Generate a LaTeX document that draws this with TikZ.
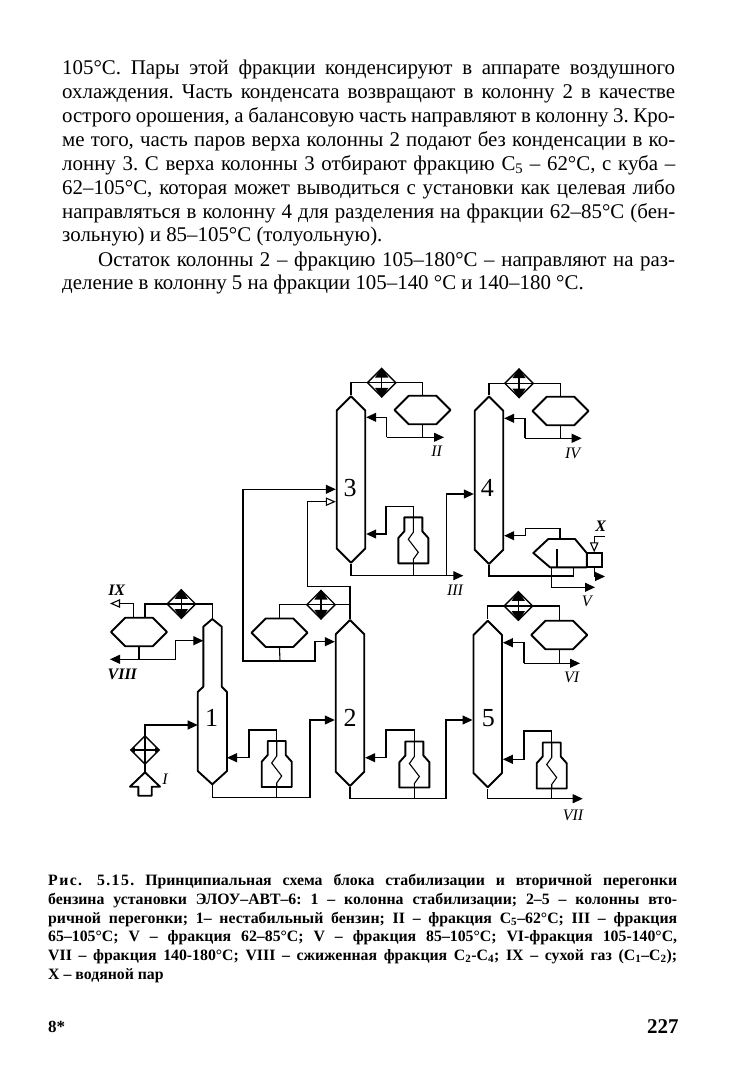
\documentclass[tikz,border=0pt]{standalone}
\usepackage{fontspec}
\setmainfont{Liberation Serif}
\usepackage{tikz}
\usetikzlibrary{positioning}
\usetikzlibrary{calc}
\usetikzlibrary{arrows.meta}
\usetikzlibrary{shapes.geometric,shapes.symbols}
\newcommand{\fitline}[2]{\makebox[#1pt][s]{#2}}
\newcommand{\subn}[1]{\textsubscript{#1}}

\tikzset{
  vessel/.style={draw, line width=1.9pt, line join=round},
  flow/.style={line width=1.1pt},
  feedin/.style={flow, -{Triangle[length=10pt,width=9pt]}},
  ventout/.style={flow, -{Triangle[open,length=10pt,width=8.5pt]}},
  reboil/.pic={
    \draw[vessel] (-9,0) -- (9,0) -- (9,14) -- (15,20.7) -- (15,46) -- (-15,46) -- (-15,20.7) -- (-9,14) -- cycle;
    \draw[flow] (0,0) -- (0,15) -- (-5,22) -- (5,35) -- (0,42) -- (0,46);
    \coordinate (-top) at (0,0);
    \coordinate (-bot) at (0,46);
  }
}

\begin{document}
\begin{tikzpicture}[
  x=1pt, y=-1pt,
  column/.style={signal, signal to=north and south, signal pointer angle=90, vessel, inner sep=0pt, minimum width=28.5pt},
  drum/.style={signal, signal to=west and east, signal pointer angle=90, vessel, inner sep=0pt, minimum width=56pt, minimum height=28.5pt},
  cond/.style={diamond, draw, line width=1.4pt, inner sep=0pt, minimum size=29pt},
  condtip/.style={flow, {Triangle[length=10pt,width=13pt]}-{Triangle[length=10pt,width=13pt]}},
  numtag/.style={font=\fontsize{26}{26}\selectfont, inner sep=0pt},
  streamtag/.style={font=\fontsize{16}{16}\selectfont\itshape, inner sep=0pt},
  boldtag/.style={font=\fontsize{16}{16}\selectfont\itshape\bfseries, inner sep=0pt},
  bodytext/.style={anchor=base west, inner sep=0pt, font=\fontsize{20.9}{23}\selectfont\frenchspacing},
  captext/.style={anchor=base west, inner sep=0pt, font=\fontsize{15.8}{18}\selectfont\bfseries\frenchspacing}
]
\useasboundingbox (0,0) rectangle (736,1089);

% ---------- Text above the scheme ----------
\node[bodytext] (t1) at (62,75) {\fitline{613}{105°С. Пары этой фракции конденсируют в аппарате воздушного}};
\node[bodytext] (t2) at (62,99) {\fitline{613}{охлаждения. Часть конденсата возвращают в колонну 2 в качестве}};
\node[bodytext] (t3) at (62,123) {\fitline{613}{острого орошения, а балансовую часть направляют в колонну 3. Кро-}};
\node[bodytext] (t4) at (62,146.5) {\fitline{613}{ме того, часть паров верха колонны 2 подают без конденсации в ко-}};
\node[bodytext] (t5) at (62,170.5) {\fitline{613}{лонну 3. С верха колонны 3 отбирают фракцию С\subn{5}~– 62°С, с куба –}};
\node[bodytext] (t6) at (62,194) {\fitline{613}{62–105°С, которая может выводиться с установки как целевая либо}};
\node[bodytext] (t7) at (62,218) {\fitline{613}{направляться в колонну 4 для разделения на фракции 62–85°С (бен-}};
\node[bodytext] (t8) at (62,241.5) {зольную) и 85–105°С (толуольную).};
\node[bodytext] (t9) at (98,266) {\fitline{577}{Остаток колонны 2 – фракцию 105–180°С – направляют на раз-}};
\node[bodytext] (t10) at (62,289.5) {деление в колонну 5 на фракции 105–140 °С и 140–180 °С.};

% ---------- Column 3 ----------
\node[column, minimum height=138pt] (col3) at (351,479.5) {};
\node[numtag] (n3) at (350,488) {3};
\node[cond] (cd3) at (381.7,382.7) {};
\node[drum] (hx3) at (422.5,410) {};
\draw[condtip] (cd3.north) -- (cd3.south);
\draw[flow] (cd3.west) -- (cd3.east);
\draw[flow] (col3.north) |- (cd3.west);
\draw[flow] (cd3.east) -| (hx3.north);
\coordinate (r3) at (386.7,437.3);
\node[streamtag] (s2) at (436.7,451.7) {II};
\draw[feedin] (r3) -- (444,437.3) coordinate (o2);
\draw[flow] (hx3.south) -- (hx3.south |- r3);
\draw[feedin] (r3) |- (col3.east |- 0,417.3);
\pic (rb3) at (413.3,517.3) {reboil};
\coordinate (b3) at (386,534);
\draw[feedin] (rb3-top) -- ++(0,-10.6) -| (b3) -- (col3.east |- b3);
\coordinate (j3) at (446.7,575.7);
\draw[feedin] (col3.south) |- (463.3,575.7) coordinate (o3);
\draw[flow] (rb3-bot) -- (rb3-bot |- j3);
\node[streamtag] (s3) at (455,590) {III};

% ---------- Column 4 ----------
\node[column, minimum height=139pt] (col4) at (489,480.3) {};
\node[numtag] (n4) at (487.3,488.3) {4};
\draw[feedin] (j3) |- (col4.west |- 0,494);
\node[cond] (cd4) at (519,383.3) {};
\node[drum] (hx4) at (560.5,411) {};
\draw[condtip] (cd4.north) -- (cd4.south);
\draw[flow] (cd4.west) -- (cd4.east);
\draw[flow] (col4.north) |- (cd4.west);
\draw[flow] (cd4.east) -| (hx4.north);
\coordinate (r4) at (525,438.3);
\draw[feedin] (r4) -- (581.7,438.3) coordinate (o4);
\draw[flow] (hx4.south) -- (hx4.south |- r4);
\draw[feedin] (r4) |- (col4.east |- 0,418.3);
\node[streamtag] (s4) at (572.7,453.3) {IV};

% kettle under column 4
\coordinate (k4t) at (560,539);
\coordinate (k4a) at (551.7,567.3);
\coordinate (k4b) at (573.3,567.3);
\draw[vessel] (548.3,539) -- (575,539) -- (586.7,553) -- (586.7,567.3) -- (550,567.3) -- (533.3,553) -- cycle;
\draw[vessel] (557.3,549.3) -- (557.3,567.3);
\node[draw, line width=1.9pt, inner sep=0pt, minimum width=15pt, minimum height=14pt] (st4) at (594.2,560.3) {};
\coordinate (b4) at (525.7,535.7);
\draw[feedin] (k4t) -- ++(0,-10.7) -| (b4) -- (col4.east |- b4);
\draw[flow] (col4.south) |- (k4b |- 0,576) -- (k4b);
\draw[feedin] (k4a) |- (595,587.3) coordinate (o5);
\draw[feedin] (st4.south) |- (605,576.5) coordinate (o6);
\coordinate (x4) at (605,536.7);
\draw[ventout] (x4) -| (st4.north);
\node[boldtag] (sx) at (600.7,526) {X};
\node[streamtag] (s5) at (586.7,601.7) {V};

% ---------- Column 1 ----------
\coordinate (c1t) at (212.3,619);
\coordinate (c1b) at (212.3,784.3);
\draw[vessel] (c1t) -- (221.7,626.7) -- (221.7,686.7) -- (227,692) -- (227,771) -- (c1b) -- (197.7,771) -- (197.7,692) -- (203.3,686.7) -- (203.3,626.7) -- cycle;
\node[numtag] (n1) at (211.7,717.7) {1};
\node[cond] (cd1) at (181.3,604) {};
\node[drum] (hx1) at (139,632) {};
\draw[condtip] (cd1.north) -- (cd1.south);
\draw[flow] (cd1.west) -- (cd1.east);
\draw[flow] (c1t) |- (cd1.east);
\draw[flow] (cd1.west) -| (145,618);
\coordinate (v9) at (133.3,603.5);
\draw[ventout] (133.3,618) -- (v9) -- (110,603.5) coordinate (o9);
\node[boldtag] (s9) at (116.7,590.7) {IX};
\coordinate (r1) at (175.7,659.3);
\draw[feedin] (r1) -- (110,659.3) coordinate (o8);
\draw[flow] (hx1.south) -- (hx1.south |- r1);
\draw[feedin] (r1) |- (203.3,640.7) coordinate (c1r);
\node[boldtag] (s8) at (122.3,674) {VIII};

% raw feed
\node[diamond, draw, line width=1.4pt, inner sep=0pt, minimum size=29pt] (pre) at (145,750) {};
\draw[flow, {Triangle[length=5pt,width=5pt]}-{Triangle[length=5pt,width=5pt]}] (pre.west) -- (pre.east);
\draw[flow] (pre.north) -- (pre.south);
\draw[feedin] (pre.north) |- (197.7,725) coordinate (c1f);
\coordinate (ia) at (145,772.3);
\draw[vessel] (ia) -- ++(15,14.4) -- ++(-8.3,0) -- ++(0,9) -- ++(-13.4,0) -- ++(0,-9) -- ++(-8.3,0) -- cycle;
\draw[flow] (pre.south) -- (ia);
\node[streamtag] (s1) at (165,779) {I};

\pic (rb1) at (276.7,741) {reboil};
\coordinate (b1) at (249,757.7);
\draw[feedin] (rb1-top) -- ++(0,-11) -| (b1) -- (227,757.7) coordinate (c1s);
\coordinate (j1) at (310,797.7);
\draw[flow] (rb1-bot) -- (rb1-bot |- j1);

% ---------- Column 2 ----------
\node[column, minimum height=137.5pt] (col2) at (350,703) {};
\node[numtag] (n2) at (350,718) {2};
\draw[feedin] (c1b) |- (j1) |- (col2.west |- 0,720);
\node[cond] (cd2) at (321,604.7) {};
\node[drum] (hx2) at (279.5,632.7) {};
\draw[condtip] (cd2.north) -- (cd2.south);
\draw[flow] (cd2.west) -- (cd2.east);
\draw[flow] (cd2.east) -| (col2.north);
\draw[flow] (cd2.west) -| (hx2.north);
\coordinate (r2) at (280,661);
\draw[flow] (hx2.south) -- (r2);
\draw[feedin] (r2) -| (315,641.7) -- (col2.west |- 0,641.7);
\draw[feedin] (r2) -| (243,489.3) -- (col3.west |- 0,489.3);
\draw[ventout] (col2.north) |- (307.3,586.7) |- (col3.west |- 0,501.7);
\pic (rb2) at (414.4,741.5) {reboil};
\coordinate (b2) at (386,757.7);
\draw[feedin] (rb2-top) -- ++(0,-11.5) -| (b2) -- (col2.east |- b2);
\coordinate (j2) at (446,798.3);
\draw[flow] (rb2-bot) -- (rb2-bot |- j2);

% ---------- Column 5 ----------
\node[column, minimum height=138pt] (col5) at (487.7,704) {};
\node[numtag] (n5) at (488.3,718.3) {5};
\draw[feedin] (col2.south) |- (j2) |- (col5.west |- 0,720);
\node[cond] (cd5) at (518.3,606) {};
\node[drum] (hx5) at (559.2,635) {};
\draw[condtip] (cd5.north) -- (cd5.south);
\draw[flow] (cd5.west) -- (cd5.east);
\draw[flow] (col5.north) |- (cd5.west);
\draw[flow] (cd5.east) -| (hx5.north);
\coordinate (r5) at (524,663.3);
\draw[feedin] (r5) -- (580,663.3) coordinate (o7);
\draw[flow] (hx5.south) -- (hx5.south |- r5);
\draw[feedin] (r5) |- (col5.east |- 0,642.7);
\node[streamtag] (s6) at (571.7,677.3) {VI};
\pic (rb5) at (551.7,742.5) {reboil};
\coordinate (b5) at (524,759.3);
\draw[feedin] (rb5-top) -- ++(0,-11.5) -| (b5) -- (col5.east |- b5);
\draw[feedin] (col5.south) |- (582.7,798.7) coordinate (o10);
\draw[flow] (rb5-bot) -- (rb5-bot |- o10);
\node[streamtag] (s7) at (573,815) {VII};

% ---------- Caption ----------
\node[captext] (c1) at (48,885) {\fitline{629}{{\addfontfeature{LetterSpace=9}Рис. 5.15.} Принципиальная схема блока стабилизации и вторичной перегонки}};
\node[captext] (c2) at (48,904) {\fitline{629}{бензина установки ЭЛОУ–АВТ–6: 1 – колонна стабилизации; 2–5 – колонны вто-}};
\node[captext] (c3) at (48,923) {\fitline{629}{ричной перегонки; 1– нестабильный бензин; II – фракция С\subn{5}–62°С; III – фракция}};
\node[captext] (c4) at (48,941.5) {\fitline{629}{65–105°С; V – фракция 62–85°С; V – фракция 85–105°С; VI-фракция 105-140°С,}};
\node[captext] (c5) at (48,960.5) {\fitline{629}{VII – фракция 140-180°С; VIII – сжиженная фракция С\subn{2}-С\subn{4}; IX – сухой газ (С\subn{1}–С\subn{2});}};
\node[captext] (c6) at (48,979.5) {X – водяной пар};
\node[captext, font=\fontsize{17}{17}\selectfont\bfseries] (pg1) at (48,1032) {8*};
\node[captext, font=\fontsize{21}{21}\selectfont\bfseries] (pg2) at (647,1033) {227};

\end{tikzpicture}
\end{document}
